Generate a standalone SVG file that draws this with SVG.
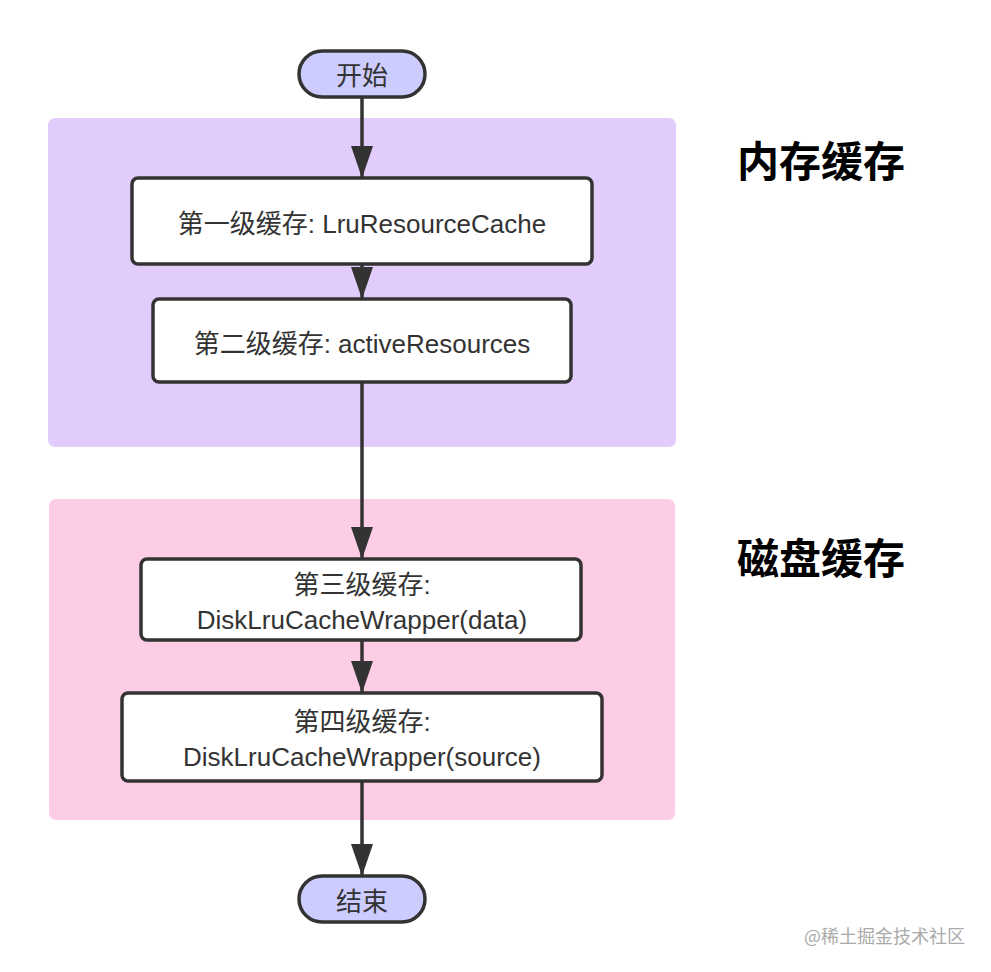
<svg xmlns="http://www.w3.org/2000/svg" width="991" height="972" viewBox="0 0 991 972">
<defs>
<style>
.node rect{fill:#fff;stroke:#333;stroke-width:3.5}
.term rect{fill:#ccccff;stroke:#333;stroke-width:3.5}
.t{font-family:"Liberation Sans","Noto Sans CJK SC",sans-serif;font-size:26px;fill:#333;text-anchor:middle}
.h{font-family:"Noto Sans CJK SC",sans-serif;font-size:42px;font-weight:bold;fill:#000}
.conn line{stroke:#333;stroke-width:3.5}
</style>
<marker id="ah" viewBox="0 0 32 22" refX="32" refY="11" markerWidth="32" markerHeight="22" markerUnits="userSpaceOnUse" orient="auto">
<path d="M0,0 L32,11 L0,22 Z" fill="#333"/>
</marker>
</defs>
<rect width="991" height="972" fill="#fff"/>
<g id="memory-panel">
<rect x="48" y="118" width="628" height="329" rx="7" fill="#e1ccfb"/>
<text class="h" x="737" y="177">内存缓存</text>
</g>
<g id="disk-panel">
<rect x="49" y="499" width="626" height="321" rx="7" fill="#fdcce5"/>
<text class="h" x="737" y="574">磁盘缓存</text>
</g>
<g id="connectors" class="conn">
<line x1="362" y1="97" x2="362" y2="178" marker-end="url(#ah)"/>
<line x1="362" y1="264" x2="362" y2="299" marker-end="url(#ah)"/>
<line x1="362" y1="382" x2="362" y2="559" marker-end="url(#ah)"/>
<line x1="362" y1="640" x2="362" y2="693" marker-end="url(#ah)"/>
<line x1="362" y1="781" x2="362" y2="876" marker-end="url(#ah)"/>
</g>
<g id="start" class="term">
<rect x="299" y="51" width="126" height="46" rx="23"/>
<text class="t" x="362" y="85">开始</text>
</g>
<g id="level1" class="node">
<rect x="132" y="178" width="460" height="86" rx="6"/>
<text class="t" x="362" y="233">第一级缓存: LruResourceCache</text>
</g>
<g id="level2" class="node">
<rect x="153" y="299" width="418" height="83" rx="6"/>
<text class="t" x="362" y="353">第二级缓存: activeResources</text>
</g>
<g id="level3" class="node">
<rect x="141" y="559" width="440" height="81" rx="6"/>
<text class="t" x="362" y="594">第三级缓存:</text>
<text class="t" x="362" y="629">DiskLruCacheWrapper(data)</text>
</g>
<g id="level4" class="node">
<rect x="122" y="693" width="480" height="88" rx="6"/>
<text class="t" x="362" y="731">第四级缓存:</text>
<text class="t" x="362" y="766">DiskLruCacheWrapper(source)</text>
</g>
<g id="end" class="term">
<rect x="299" y="876" width="126" height="46" rx="23"/>
<text class="t" x="362" y="911">结束</text>
</g>
<text x="965" y="943" text-anchor="end" font-family="Noto Sans CJK SC,sans-serif" font-size="18" fill="#aaa">@稀土掘金技术社区</text>
</svg>
